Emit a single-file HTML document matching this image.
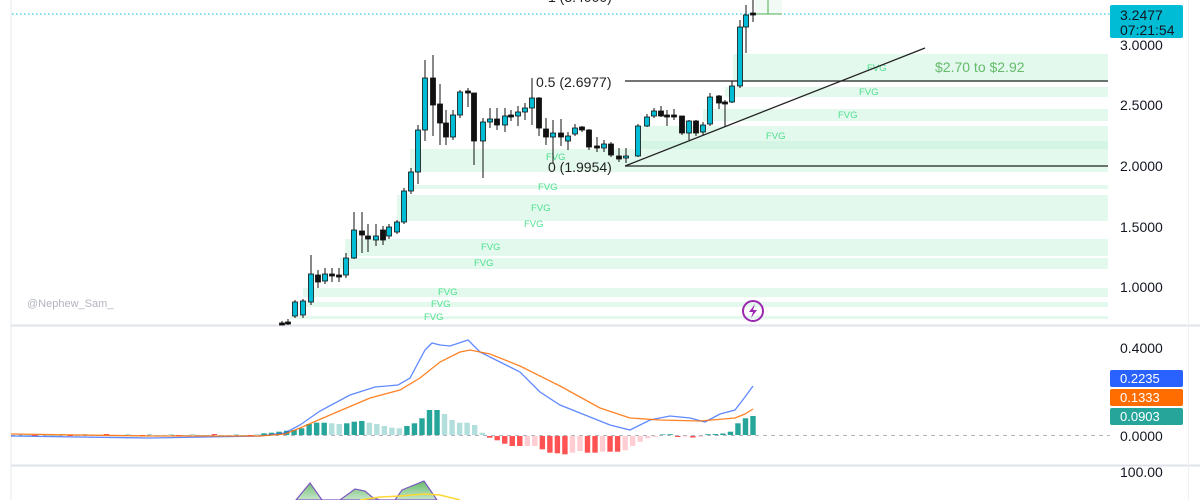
<!DOCTYPE html>
<html><head><meta charset="utf-8"><style>
html,body{margin:0;padding:0;background:#fff;width:1200px;height:500px;overflow:hidden}
svg{display:block;font-family:"Liberation Sans",sans-serif}
</style></head><body>
<svg id="s" width="1200" height="500" viewBox="0 0 1200 500">
<rect width="1200" height="500" fill="#fff"/>
<g id="fvg" fill="#e3f9ee"></g>
<line x1="11" y1="0" x2="11" y2="500" stroke="#e6e8ee"/>
<line x1="11" y1="325.5" x2="1200" y2="325.5" stroke="#e0e3eb" stroke-width="2"/>
<line x1="11" y1="465.5" x2="1200" y2="465.5" stroke="#e0e3eb" stroke-width="2"/>
<line x1="1188.5" y1="0" x2="1188.5" y2="500" stroke="#eef0f3"/>
<line x1="12" y1="14" x2="1110" y2="14" stroke="#00bcd4" stroke-dasharray="1.5 2.5"/>
<rect x="755" y="0" width="27" height="14" fill="#f1faf4"/>
<line x1="755" y1="14" x2="782" y2="14" stroke="#4caf50"/>
<line x1="768" y1="0" x2="768" y2="14" stroke="#4caf50"/>
<g id="fvgt" fill="#4fe08e" font-size="9.5"></g>
<text x="935" y="72" fill="#66bb6a" font-size="14">$2.70 to $2.92</text>
<line x1="625" y1="81" x2="1108" y2="81" stroke="#222" stroke-width="1.3"/>
<line x1="625" y1="166" x2="1108" y2="166" stroke="#222" stroke-width="1.3"/>
<line x1="625" y1="166" x2="925" y2="48" stroke="#222" stroke-width="1.3"/>
<text x="536" y="87" fill="#222" font-size="14">0.5 (2.6977)</text>
<text x="548" y="172" fill="#222" font-size="14">0 (1.9954)</text>
<text x="548" y="2" fill="#222" font-size="14">1 (3.4000)</text>
<g id="candles"></g>
<text x="27" y="307" fill="#b2b5be" font-size="11">@Nephew_Sam_</text>
<circle cx="753" cy="311" r="10" fill="none" stroke="#9c27b0" stroke-width="2"/>
<path d="M755 304 L749 312 L753 312 L751 318 L757 310 L753 310 Z" fill="#9c27b0"/>
<g font-size="14" fill="#131722">
<text x="1120" y="50">3.0000</text><text x="1120" y="110">2.5000</text><text x="1120" y="171">2.0000</text>
<text x="1120" y="232">1.5000</text><text x="1120" y="292">1.0000</text>
<text x="1120" y="353">0.4000</text><text x="1120" y="441">0.0000</text><text x="1120" y="477">100.00</text>
</g>
<rect x="1110" y="5" width="73" height="33" rx="2" fill="#00bcd4"/>
<text x="1120" y="20" font-size="14" fill="#131722">3.2477</text>
<text x="1120" y="35" font-size="14" fill="#131722">07:21:54</text>
<line x1="11" y1="435.5" x2="1110" y2="435.5" stroke="#b2b5be" stroke-dasharray="4 4"/>
<g id="hist"></g>
<polyline fill="none" stroke="#2962ff" stroke-opacity=".75" stroke-width="1.3" points="11,436 150,438 260,436 285,433 300,425 320,411 350,395 375,387 398,385 410,378 425,350 432,343 440,345 450,346 468,340 480,352 500,362 520,372 540,392 560,405 580,413 610,425 630,430 650,420 670,416 690,418 705,422 720,414 735,410 745,397 753,386"/>
<polyline fill="none" stroke="#ff6d00" stroke-opacity=".85" stroke-width="1.3" points="11,434 150,436 260,436 285,434 300,428 330,415 370,398 400,390 420,378 440,362 460,352 470,350 490,354 520,366 560,386 600,408 630,418 660,420 700,421 735,418 745,414 753,409"/>
<rect x="1110" y="370" width="73" height="17" rx="2" fill="#2962ff"/>
<text x="1120" y="383" font-size="13" fill="#fff">0.2235</text>
<rect x="1110" y="389" width="73" height="17" rx="2" fill="#ff6d00"/>
<text x="1120" y="402" font-size="13" fill="#fff">0.1333</text>
<rect x="1110" y="408" width="73" height="17" rx="2" fill="#26a69a"/>
<text x="1120" y="421" font-size="13" fill="#fff">0.0903</text>
<defs><linearGradient id="g" x1="0" y1="0" x2="0" y2="1"><stop offset="0" stop-color="#66bb6a"/><stop offset="1" stop-color="#c8e6c9"/></linearGradient></defs>
<polygon points="296,500 310,483 322,500 330,500 340,500 355,489 365,491 372,497 380,500 395,500 402,490 424,481 437,500" fill="url(#g)" stroke="#7e57c2" stroke-width="1.2"/>
<polyline points="360,500 380,497 400,496 425,494 440,495 460,500" fill="none" stroke="#fdd835" stroke-width="1.5"/>
</svg>
<script>
var NS="http://www.w3.org/2000/svg";
function el(p,t,a){var e=document.createElementNS(NS,t);for(var k in a)e.setAttribute(k,a[k]);p.appendChild(e);return e;}
var F=document.getElementById('fvg');
[[733,54,82],[725,87,97],[703,109,121],[640,126,141],[640,141,149,'#d4f5e3'],[410,149,172],[410,185,189],[397,195,221],[345,239,256],[340,258,269],[303,288,297],[300,302,307],[290,316,319]].forEach(function(z){
 var r=el(F,'rect',{x:z[0],y:z[1],width:1108-z[0],height:z[2]-z[1]});if(z[3])r.setAttribute('fill',z[3]);});
var T=document.getElementById('fvgt');
[[877,68],[869,92],[848,115],[776,136],[556,157],[548,187],[541,208],[534,224],[491,247],[484,263],[448,292],[441,304],[434,317]].forEach(function(p){var t=el(T,'text',{x:p[0]-10,y:p[1]+3});t.textContent='FVG';});
var C=document.getElementById('candles');
var c=[[282,323,325,321,325,0],[288,322,324,319,325,0],[295,302,316,300,318,1],[303,301,315,299,318,1],[311,274,302,255,305,1],[318,275,282,270,288,0],[325,274,281,268,284,1],[332,274,276,268,282,0],[339,275,277,268,282,0],[346,258,275,253,278,1],[354,230,258,212,259,1],[362,231,235,212,253,0],[368,236,239,224,252,0],[376,236,240,224,246,1],[383,230,240,226,245,0],[389,227,236,224,239,1],[397,222,232,220,234,1],[404,191,222,188,224,1],[411,172,191,168,194,1],[418,130,172,125,184,1],[425,78,130,60,141,1],[433,78,105,55,136,0],[440,104,123,84,145,0],[446,123,137,110,145,0],[453,115,137,110,140,1],[460,92,115,90,118,1],[468,91,93,88,107,0],[474,93,141,93,165,0],[483,122,141,118,178,1],[490,119,122,108,128,1],[497,119,125,108,130,0],[505,116,125,108,132,1],[511,115,117,110,121,0],[518,112,116,106,126,1],[525,108,112,103,120,1],[532,98,108,78,125,1],[539,98,128,97,136,0],[546,129,137,118,145,0],[553,133,137,120,163,1],[561,133,137,119,146,0],[568,136,141,132,150,1],[575,128,134,124,136,1],[582,127,130,126,132,0],[589,130,147,129,150,0],[597,146,148,137,152,0],[604,144,148,140,152,1],[611,144,155,142,157,0],[619,156,159,148,162,0],[626,156,158,148,163,1],[638,126,156,124,157,1],[647,117,126,114,127,1],[654,111,116,108,118,1],[661,111,116,106,117,0],[667,115,117,110,126,0],[674,115,117,109,120,0],[682,116,133,116,135,0],[689,121,133,120,140,1],[696,121,133,120,136,0],[703,125,132,122,135,1],[710,97,124,93,126,1],[719,96,103,95,109,0],[725,102,104,100,127,0],[732,86,102,81,103,1],[740,27,86,20,88,1],[746,15,27,5,53,1],[753,13,15,0,22,0]];
c.forEach(function(k){
 el(C,'line',{x1:k[0],y1:k[3],x2:k[0],y2:k[4],stroke:'#111','stroke-width':1});
 var h=Math.max(k[2]-k[1],1.5);
 el(C,'rect',{x:k[0]-2.5,y:k[1],width:5,height:h,fill:k[5]?'#00bcd4':'#111',stroke:'#111','stroke-width':0.8});
});
var H=document.getElementById('hist');
var v=[1.7,2.3,3.3,4.3,5,6.7,11,12.3,12.3,'11.7L','11L',11.7,13.3,14,'12.3L','11L','9L','7.3L','6.7L',9,11.7,16.7,25,25,'21L','15L','12.3L','12.3L','10L','2.3L',-1.7,-4.3,-7.7,-10,-10,'-10L','-10L',-13.3,-16.7,-17.3,-18.3,'-16.7L','-15L',-16.7,-16.7,'-15.7L',-15.7,-15.7,'-14.3L','-10L','-5.7L','-2.3L','-1L',0.6,0.8,-1,'-0.6L',-1.5,'-1L',0.8,1,1.5,3.3,11.7,16.7,19];
var n=v.length,sp=(753-264)/(n-1);
for(var j=0;j<34;j++){var xx=20+j*7.2;el(H,'rect',{x:xx-2.7,y:j%3?435:434,width:5.4,height:1,fill:j%5==2?'#ff5252':'#b2dfdb'});}
v.forEach(function(t,i){var s=String(t),L=s.indexOf('L')>=0,h=parseFloat(s),x=264+i*sp;
 var col=h>=0?(L?'#b2dfdb':'#26a69a'):(L?'#ffcdd2':'#ff5252');
 el(H,'rect',{x:x-2.7,y:h>=0?435-h:436,width:5.4,height:Math.abs(h),fill:col});});
</script>
</body></html>
